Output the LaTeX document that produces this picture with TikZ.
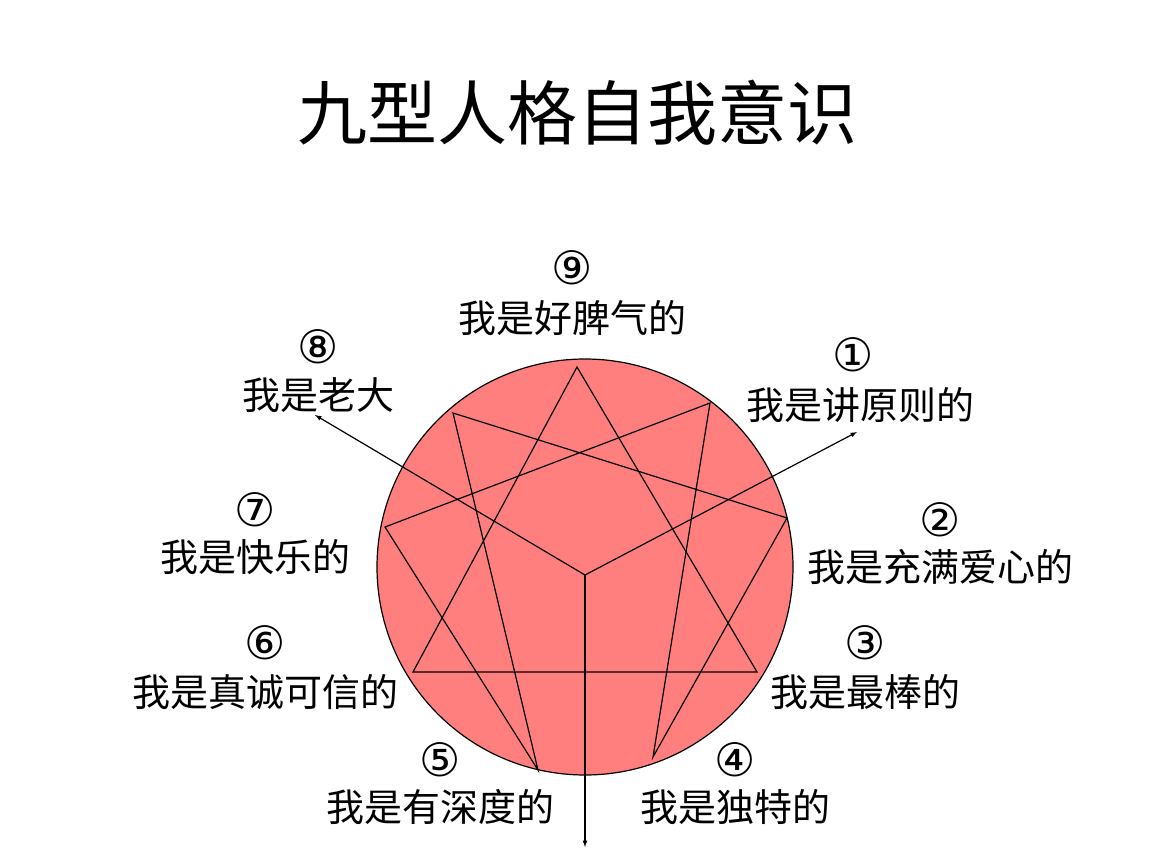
\documentclass[tikz,border=0pt]{standalone}
\usepackage{fontspec}
\newfontfamily\cjk{Noto Sans CJK SC}
\newfontfamily\symf{DejaVu Sans}
\definecolor{pinkfill}{HTML}{FF7F7F}
\begin{document}
\begin{tikzpicture}[x=1pt,y=-1pt,
  lbl/.style={font=\cjk\fontsize{38}{42}\selectfont,inner sep=0pt},
  num/.style={font=\symf\fontsize{46}{50}\selectfont,inner sep=0pt},
  ln/.style={line width=1.2pt},
  arr/.style={line width=1.2pt,-latex}]
\useasboundingbox (0,0) rectangle (1152,864);
\node[font=\cjk\fontsize{70}{76}\selectfont] (title) at (577,113) {九型人格自我意识};
\node[circle,draw,line width=1.2pt,fill=pinkfill,minimum size=416pt,inner sep=0pt] (c) at (585,567) {};
\coordinate (p9) at (577,367);
\coordinate (p1) at (710,403);
\coordinate (p2) at (787,518);
\coordinate (p3) at (757,672);
\coordinate (p4) at (653,757);
\coordinate (p5) at (538,770);
\coordinate (p6) at (413,672);
\coordinate (p7) at (385,527);
\coordinate (p8) at (453,413);
\draw[ln] (p9)--(p3)--(p6)--cycle;
\draw[ln] (p1)--(p4)--(p2)--(p8)--(p5)--(p7)--cycle;
\coordinate (ctr) at (585,575);
\coordinate (e8) at (315,415);
\coordinate (e1) at (857,432);
\coordinate (ed) at (585,847);
\draw[arr] (ctr)--(e8);
\draw[arr] (ctr)--(e1);
\draw[arr] (ctr)--(ed);
\node[num] (n9) at (572,268) {⑨};
\node[lbl] (t9) at (572,318) {我是好脾气的};
\node[num] (n8) at (318,347) {⑧};
\node[lbl] (t8) at (318,395) {我是老大};
\node[num] (n1) at (853,355) {①};
\node[lbl] (t1) at (860,405) {我是讲原则的};
\node[num] (n7) at (255,510) {⑦};
\node[lbl] (t7) at (255,557) {我是快乐的};
\node[num] (n2) at (940,520) {②};
\node[lbl] (t2) at (940,567) {我是充满爱心的};
\node[num] (n6) at (265,643) {⑥};
\node[lbl] (t6) at (265,692) {我是真诚可信的};
\node[num] (n3) at (865,643) {③};
\node[lbl] (t3) at (865,692) {我是最棒的};
\node[num] (n5) at (440,760) {⑤};
\node[lbl] (t5) at (440,807) {我是有深度的};
\node[num] (n4) at (735,760) {④};
\node[lbl] (t4) at (735,807) {我是独特的};
\end{tikzpicture}
\end{document}
